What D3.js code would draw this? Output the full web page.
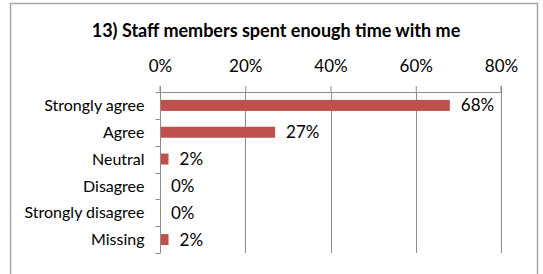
<!DOCTYPE html>
<html>
<head>
<meta charset="utf-8">
<script src="https://cdn.jsdelivr.net/npm/d3@7"></script>
<style>
  body { margin: 0; background: #fff; }
  text { font-family: Lato, "Open Sans", sans-serif; fill: #000; }
</style>
</head>
<body>
<div class="chart"></div>
<script>
// chart data
var title = "13) Staff members spent enough time with me";
var categories = ["Strongly agree", "Agree", "Neutral", "Disagree", "Strongly disagree", "Missing"];
var values = [0.68, 0.27, 0.02, 0, 0, 0.02];
var tickValues = [0, 0.2, 0.4, 0.6, 0.8];

var svgWidth = 543;
var svgHeight = 274;

var svg = d3.select(".chart")
  .append("svg")
  .attr("width", svgWidth)
  .attr("height", svgHeight);

// outer frame
svg.append("rect")
  .attr("x", 10.5)
  .attr("y", 3.5)
  .attr("width", 527)
  .attr("height", 290)
  .attr("fill", "#fff")
  .attr("stroke", "#a6a6a6")
  .attr("stroke-width", 1.5);

svg.append("text")
  .attr("x", 276)
  .attr("y", 37)
  .attr("text-anchor", "middle")
  .style("font-weight", "bold")
  .style("font-size", "18px")
  .text(title);

var plotLeft = 160, plotRight = 501, plotTop = 92, plotBottom = 253;

var x = d3.scaleLinear()
  .domain([0, 0.8])
  .range([plotLeft, plotRight]);

var y = d3.scaleBand()
  .domain(categories)
  .range([plotTop, plotBottom])
  .paddingInner(0.59)
  .paddingOuter(0.295);

// gridlines
svg.append("g")
  .selectAll("line")
  .data(tickValues.slice(1))
  .enter()
  .append("line")
  .attr("x1", d => Math.round(x(d)) + 0.5)
  .attr("x2", d => Math.round(x(d)) + 0.5)
  .attr("y1", plotTop)
  .attr("y2", plotBottom)
  .attr("stroke", "#8c8c8c")
  .attr("stroke-width", 1);

// top axis
var topAxis = d3.axisTop(x)
  .tickValues(tickValues)
  .tickFormat(d3.format(".0%"))
  .tickSize(6)
  .tickPadding(14)
  .offset(0.5);

var gx = svg.append("g")
  .attr("transform", `translate(0, ${plotTop})`)
  .call(topAxis);
gx.selectAll("line, path").attr("stroke", "#8c8c8c");
gx.select(".domain").attr("d", `M${plotLeft},-6V0.5H${plotRight}V-6`);
gx.selectAll("text").style("font-size", "17px").attr("font-family", null);

// left axis with ticks on band boundaries
var gy = svg.append("g")
  .attr("transform", `translate(${plotLeft + 0.5}, 0)`);
gy.append("line")
  .attr("y1", plotTop)
  .attr("y2", plotBottom)
  .attr("stroke", "#8c8c8c");
gy.selectAll(".btick")
  .data(categories)
  .enter()
  .append("line")
  .attr("x1", -5)
  .attr("x2", 0)
  .attr("y1", d => Math.round(y(d) - y.step() * y.paddingInner() / 2 + y.step()) + 0.5)
  .attr("y2", d => Math.round(y(d) - y.step() * y.paddingInner() / 2 + y.step()) + 0.5)
  .attr("stroke", "#8c8c8c");
gy.append("line")
  .attr("x1", -5).attr("x2", 0)
  .attr("y1", plotTop + 0.5).attr("y2", plotTop + 0.5)
  .attr("stroke", "#8c8c8c");
gy.selectAll(".lbl")
  .data(categories)
  .enter()
  .append("text")
  .attr("x", -16)
  .attr("y", d => y(d) + y.bandwidth() / 2)
  .attr("dy", "0.35em")
  .attr("text-anchor", "end")
  .style("font-size", "16px")
  .text(d => d);

// bars
svg.append("g")
  .selectAll("rect")
  .data(values)
  .enter()
  .append("rect")
  .attr("x", x(0) + 1)
  .attr("y", (d, i) => y(categories[i]))
  .attr("width", d => Math.max(0, x(d) - x(0) - 1))
  .attr("height", y.bandwidth())
  .attr("fill", "#c0504d");

// value labels
svg.append("g")
  .selectAll("text")
  .data(values)
  .enter()
  .append("text")
  .attr("x", d => x(d) + 11)
  .attr("y", (d, i) => y(categories[i]) + y.bandwidth() / 2)
  .attr("dy", "0.35em")
  .style("font-size", "17px")
  .text(d => d3.format(".0%")(d));
</script>
</body>
</html>
